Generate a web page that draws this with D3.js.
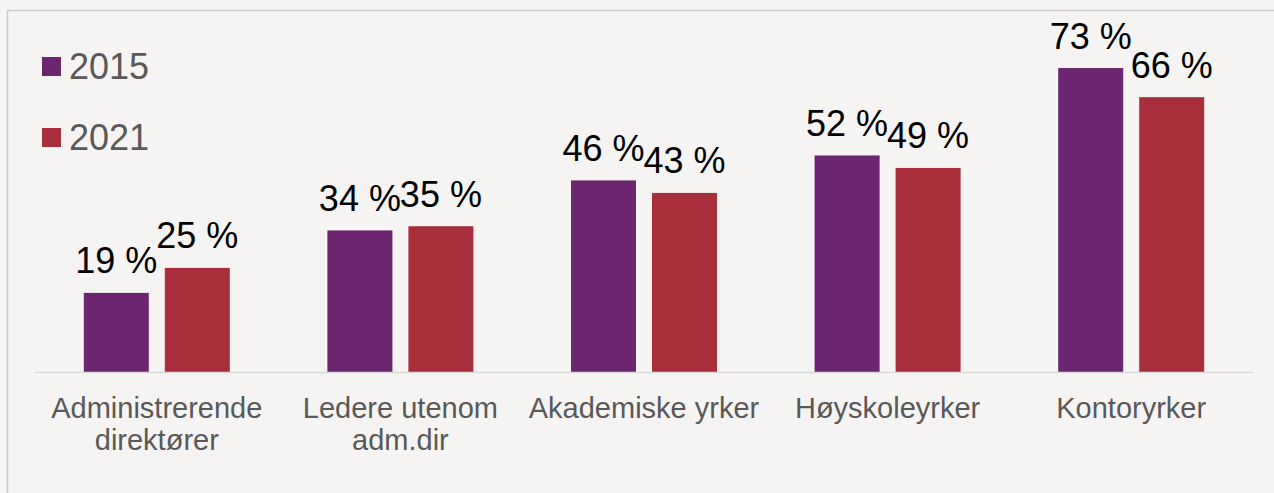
<!DOCTYPE html>
<html><head><meta charset="utf-8">
<script src="https://cdn.jsdelivr.net/npm/d3@7"></script>
<style>html,body{margin:0;padding:0;background:#f5f4f2;}svg{display:block;}</style>
</head><body>
<script>
const categories = [["Administrerende","direktører"],["Ledere utenom","adm.dir"],["Akademiske yrker"],["Høyskoleyrker"],["Kontoryrker"]];
const seriesNames = ["2015","2021"];
const values2015 = [19,34,46,52,73];
const values2021 = [25,35,43,49,66];
const seriesColors = ["#6c256f","#a92e3b"];

const W=1274,H=493;
const svg=d3.select("body").append("svg").attr("width",W).attr("height",H);
svg.append("rect").attr("width",W).attr("height",H).attr("fill","#f5f4f2");
svg.append("path").attr("d",`M7.5,${H} V10.5 H${W}`).attr("fill","none").attr("stroke","#c8c8c8").attr("stroke-width",1.5);

const baseY=372;
const x=d3.scaleBand().domain(d3.range(categories.length)).range([35,1253]);
const y=d3.scaleLinear().domain([0,73]).range([baseY,68]);
const barW=65, gap=16, groupW=2*barW+gap;

const data=[values2015,values2021];
categories.forEach((c,i)=>{
  const g0=x(i)+(x.bandwidth()-groupW)/2;
  data.forEach((vals,s)=>{
    const bx=g0+s*(barW+gap);
    svg.append("rect").attr("x",bx).attr("y",y(vals[i])).attr("width",barW).attr("height",baseY-y(vals[i])).attr("fill",seriesColors[s]);
    svg.append("text").attr("x",bx+barW/2).attr("y",y(vals[i])-19.5).attr("text-anchor","middle")
      .attr("font-family","Liberation Sans, Arial, sans-serif").attr("font-size",36).attr("fill","#000")
      .text(vals[i]+" %");
  });
  const t=svg.append("text").attr("text-anchor","middle").attr("font-family","Liberation Sans, Arial, sans-serif")
    .attr("font-size",29).attr("fill","#595959");
  c.forEach((line,k)=>t.append("tspan").attr("x",x(i)+x.bandwidth()/2).attr("y",418+k*32).text(line));
});
svg.append("line").attr("x1",35).attr("x2",1253).attr("y1",baseY+0.5).attr("y2",baseY+0.5).attr("stroke","#d9d9d9").attr("stroke-width",1.5);

seriesNames.forEach((n,s)=>{
  const ly=57+s*71;
  svg.append("rect").attr("x",42).attr("y",ly).attr("width",19).attr("height",19).attr("fill",seriesColors[s]);
  svg.append("text").attr("x",69).attr("y",ly+21.5).attr("font-family","Liberation Sans, Arial, sans-serif")
    .attr("font-size",36).attr("fill","#595959").text(n);
});
</script>
</body></html>
